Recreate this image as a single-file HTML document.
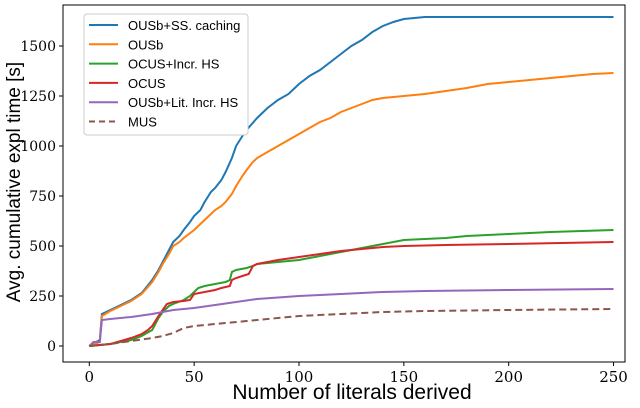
<!DOCTYPE html>
<html><head><meta charset="utf-8"><style>
body{margin:0;background:#fff}
</style></head><body>
<svg id="c" width="640" height="403" xmlns="http://www.w3.org/2000/svg"></svg>
<script>
const xTicks=[0,50,100,150,200,250];
const yTicks=[0,250,500,750,1000,1250,1500];
const seriesNames=["OUSb+SS. caching","OUSb","OCUS+Incr. HS","OCUS","OUSb+Lit. Incr. HS","MUS"];
const seriesColors=["#1f77b4","#ff7f0e","#2ca02c","#d62728","#9467bd","#8c564b"];
const blue=[[0,0],[5,30],[6,160],[10,180],[15,205],[20,230],[25,265],[30,330],[33,380],[35,420],[38,480],[40,520],[43,550],[45,580],[48,620],[50,650],[53,680],[55,720],[58,770],[60,790],[63,830],[65,870],[68,940],[70,1000],[73,1050],[75,1080],[80,1140],[85,1190],[90,1230],[95,1260],[100,1310],[105,1350],[110,1380],[115,1420],[120,1460],[125,1500],[130,1530],[135,1570],[140,1600],[145,1620],[150,1635],[160,1645],[250,1645]];
const orange=[[0,0],[5,20],[6,150],[10,175],[15,200],[20,225],[25,260],[30,320],[33,370],[35,410],[38,460],[40,500],[43,520],[45,540],[50,580],[55,630],[60,680],[63,700],[65,720],[68,760],[70,800],[73,850],[75,880],[78,920],[80,940],[85,970],[90,1000],[95,1030],[100,1060],[105,1090],[110,1120],[115,1140],[120,1170],[125,1190],[130,1210],[135,1230],[140,1240],[150,1250],[160,1260],[170,1275],[180,1290],[190,1310],[200,1320],[210,1330],[220,1340],[230,1350],[240,1360],[250,1365]];
const green=[[0,0],[10,10],[20,30],[25,50],[30,80],[33,140],[35,170],[38,200],[40,210],[45,230],[48,250],[50,270],[52,290],[55,300],[60,310],[65,320],[67,330],[68,370],[70,380],[75,390],[78,400],[80,410],[90,420],[100,430],[110,450],[120,470],[130,490],[140,510],[150,530],[160,535],[170,540],[180,550],[200,560],[220,570],[250,580]];
const red=[[0,0],[10,10],[20,40],[25,60],[28,80],[30,100],[33,150],[35,180],[37,210],[40,220],[45,225],[48,230],[50,260],[55,270],[60,280],[63,290],[67,300],[68,330],[70,340],[73,350],[76,360],[78,400],[80,410],[90,430],[100,445],[110,460],[120,475],[130,485],[140,495],[150,500],[170,505],[200,510],[250,520]];
const purple=[[0,0],[2,20],[5,20],[6,130],[10,135],[20,145],[30,160],[35,170],[40,180],[50,190],[60,205],[70,220],[80,235],[100,250],[120,260],[140,270],[160,275],[200,280],[250,285]];
const mus=[[0,0],[10,10],[20,25],[30,40],[35,50],[40,65],[45,90],[50,100],[60,110],[80,130],[100,150],[120,160],[140,170],[160,175],[200,180],[250,185]];
const allSeries=[blue,orange,green,red,purple,mus];

const NS="http://www.w3.org/2000/svg";
const svg=document.getElementById('c');
const L=63,R=625,T=5,B=362;
const X=v=>89.3+v*2.097;
const Y=v=>346-v*0.2;
const SERIF='"DejaVu Serif","Liberation Serif",serif';
const SANS='"Liberation Sans","DejaVu Sans",sans-serif';
function mk(tag,attrs,parent){const e=document.createElementNS(NS,tag);for(const k in attrs)e.setAttribute(k,attrs[k]);(parent||svg).appendChild(e);return e;}
const sids=["ousb-ss-caching","ousb","ocus-incr-hs","ocus","ousb-lit-incr-hs","mus"];
allSeries.forEach((s,i)=>{
  const p=mk('polyline',{points:s.map(d=>X(d[0]).toFixed(1)+','+Y(d[1]).toFixed(1)).join(' '),fill:'none',stroke:seriesColors[i],'stroke-width':2,'stroke-dasharray':i==5?'7,4':'none'});
  
  
});
const frame=mk('rect',{x:L,y:T,width:R-L,height:B-T,fill:'none',stroke:'#000','stroke-width':1});


xTicks.forEach(t=>{
  mk('line',{x1:X(t),x2:X(t),y1:B,y2:B+4,stroke:'#000'});
  const tx=mk('text',{x:X(t),y:B+20,'text-anchor':'middle','font-size':15,'font-family':SERIF});
  tx.textContent=t;
  
  
});
yTicks.forEach(t=>{
  mk('line',{x1:L-4,x2:L,y1:Y(t),y2:Y(t),stroke:'#000'});
  const tx=mk('text',{x:L-7,y:Y(t)+5,'text-anchor':'end','font-size':14,'font-family':SERIF});
  tx.textContent=t;
  
  
});
const xt=mk('text',{x:352,y:399,'text-anchor':'middle','font-size':21,'font-family':SANS});
xt.textContent='Number of literals derived';


const yt=mk('text',{x:0,y:0,'text-anchor':'middle','font-size':19,'font-family':SANS,transform:'translate(20,182) rotate(-90)'});
yt.textContent='Avg. cumulative expl time [s]';


const lg=mk('g',{});


mk('rect',{x:84,y:14,width:164,height:121,rx:3,fill:'#fff',stroke:'#ccc'},lg);
seriesNames.forEach((n,i)=>{
  const y=25+i*19.3;
  mk('line',{x1:89,x2:118,y1:y,y2:y,stroke:seriesColors[i],'stroke-width':2,'stroke-dasharray':i==5?'6,4':'none'},lg);
  const tx=mk('text',{x:128,y:y+5,'font-size':13,'font-family':SANS},lg);
  tx.textContent=n;
  
  
});
</script>
</body></html>
